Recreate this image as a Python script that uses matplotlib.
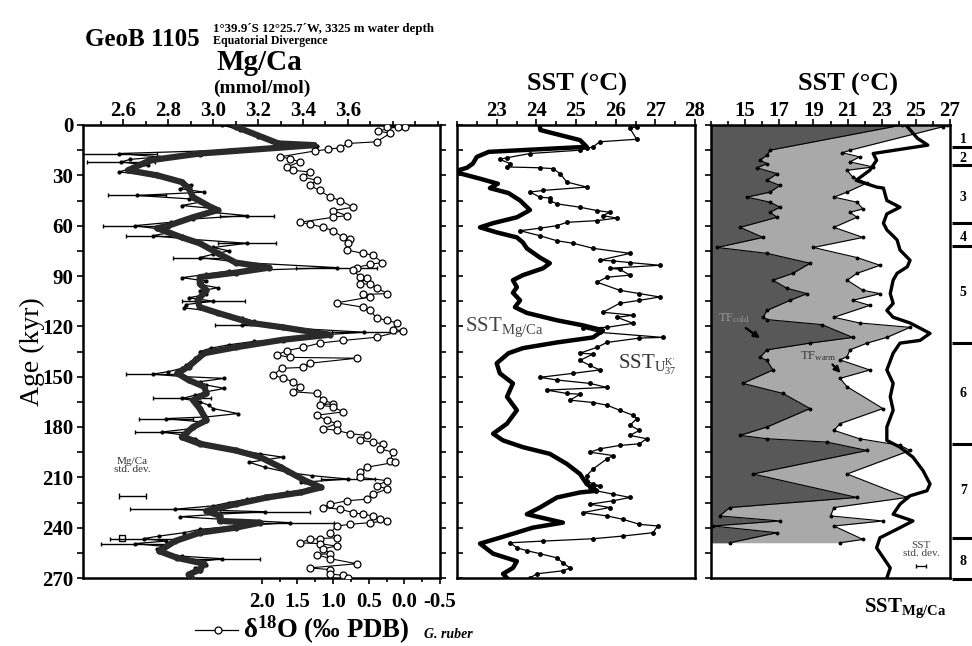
import numpy as np
import matplotlib
matplotlib.use("Agg")
import matplotlib.pyplot as plt
from matplotlib.ticker import MultipleLocator, FixedLocator, FixedFormatter
from matplotlib.lines import Line2D

plt.rcParams['font.family'] = ['Liberation Serif', 'DejaVu Serif']
plt.rcParams['font.weight'] = 'bold'
plt.rcParams['mathtext.fontset'] = 'custom'
plt.rcParams['mathtext.rm'] = 'Liberation Serif:bold'
plt.rcParams['mathtext.bf'] = 'Liberation Serif:bold'
plt.rcParams['mathtext.it'] = 'Liberation Serif:italic:bold'

# ---------------- data ----------------
age_ticks = [0, 30, 60, 90, 120, 150, 180, 210, 240, 270]
mgca_ticks = [2.6, 2.8, 3.0, 3.2, 3.4, 3.6]
d18o_ticks = [2.0, 1.5, 1.0, 0.5, 0.0, -0.5]
d18o_ticklabels = ['2.0', '1.5', '1.0', '0.5', '0.0', '-0.5']
sst_ticks_b = [23, 24, 25, 26, 27, 28]
sst_ticks_c = [15, 17, 19, 21, 23, 25, 27]

# Mg/Ca smoothed (thick line)
mgca_s_age = [1, 11, 12, 17, 21, 27, 30, 34, 37.6, 43, 49, 50.7, 55, 60, 61.5, 67, 70.5,
              76.4, 82, 85, 88, 90.7, 94.5, 98.5, 104.5, 108.6, 112, 118, 120.6, 125, 128,
              132.5, 136, 144, 148, 152, 156, 160, 164, 169, 176, 180, 186, 190, 194, 198,
              204, 212, 216, 219, 222, 226, 230, 233, 236, 237, 240, 243, 248, 254, 258,
              261.5, 265, 268, 271]
mgca_s = [3.10, 3.29, 3.45, 2.94, 2.72, 2.62, 2.75, 2.86, 2.89, 2.91, 2.99, 3.02, 2.91,
          2.80, 2.75, 2.86, 2.94, 3.02, 3.10, 3.25, 3.10, 2.94, 2.94, 2.97, 2.93, 2.94,
          3.02, 3.17, 3.31, 3.52, 3.31, 3.10, 2.96, 2.89, 2.84, 2.89, 2.96, 2.97, 2.91,
          2.94, 2.97, 2.91, 2.86, 2.94, 3.10, 3.21, 3.30, 3.41, 3.48, 3.39, 3.24, 3.10,
          2.97, 3.03, 3.03, 3.21, 3.10, 2.94, 2.83, 2.76, 2.84, 2.96, 2.94, 2.89, 2.91]

# Mg/Ca raw measurements (thin line) and their error bars
mgca_r_age = [0, 3, 7, 11, 12.5, 15, 17, 19, 20.5, 22, 24, 26, 28, 30, 32, 34, 36, 38, 40,
              42, 44, 46, 48, 50, 52, 54, 56, 58, 60, 62, 64, 66, 68, 70.5, 73, 75, 77, 79,
              82, 85, 87, 89, 91, 93, 95, 97, 99, 101, 103, 105, 107, 109, 111, 113, 115,
              117, 119, 121, 123.5, 125, 127, 129, 131, 133, 135, 137, 139, 141, 143, 145,
              147, 148.5, 150, 151, 153, 155, 157, 159, 161, 163, 165, 167, 169, 172, 174,
              175, 177, 179, 181, 183, 185, 187, 190, 193, 196, 198, 201, 204, 207, 209,
              211, 213, 215, 217, 219, 221, 223, 225, 227, 229, 230.5, 232, 233.5, 235, 237,
              239, 241, 243, 245, 246.5, 248, 249.5, 251, 253, 255, 257, 258.5, 260, 262,
              264, 266, 268, 270]
mgca_r = [3.04, 3.12, 3.20, 3.33, 3.46, 3.07, 2.58, 2.76, 2.63, 2.59, 2.71, 2.63, 2.58,
          2.73, 2.81, 2.86, 2.90, 2.85, 2.96, 2.66, 2.89, 2.94, 2.86, 3.02, 2.99, 3.15,
          2.91, 2.81, 2.65, 2.76, 2.81, 2.73, 2.89, 3.15, 3.00, 3.07, 3.00, 2.94, 3.13,
          3.55, 3.07, 2.97, 2.86, 2.97, 2.94, 3.02, 2.94, 2.97, 2.89, 3.00, 2.88, 2.87,
          3.00, 3.07, 3.13, 3.18, 3.13, 3.34, 3.67, 3.50, 3.39, 3.18, 3.07, 2.99, 2.94,
          2.95, 2.92, 2.90, 2.88, 2.86, 2.80, 2.73, 2.87, 3.05, 2.94, 2.97, 3.05, 2.97,
          2.92, 2.86, 2.94, 2.98, 3.00, 3.11, 2.97, 2.79, 2.95, 2.92, 2.90, 2.77, 2.88,
          2.92, 2.97, 3.08, 3.21, 3.31, 3.16, 3.23, 3.33, 3.44, 3.60, 3.39, 3.46, 3.42,
          3.33, 3.23, 3.15, 3.07, 3.00, 2.83, 3.23, 3.02, 2.85, 3.04, 3.34, 3.11, 2.94,
          2.87, 2.76, 2.69, 2.79, 2.65, 2.77, 2.75, 2.79, 2.86, 3.04, 2.95, 2.97, 2.92,
          2.94, 2.89, 2.91]
mgca_r_err = [0, 0, 0, 0, 0, 0, 0.17, 0, 0, 0.15, 0, 0, 0, 0, 0, 0, 0, 0, 0,
              0.13, 0, 0, 0, 0, 0, 0.12, 0, 0, 0.14, 0, 0, 0.12, 0, 0.13, 0, 0, 0, 0.12,
              0, 0.18, 0, 0, 0, 0, 0, 0, 0, 0, 0, 0.14, 0, 0, 0, 0, 0,
              0, 0.12, 0, 0.14, 0, 0, 0, 0, 0, 0, 0, 0, 0, 0, 0,
              0, 0.12, 0, 0, 0, 0, 0, 0, 0, 0.13, 0, 0, 0, 0, 0,
              0.12, 0, 0, 0, 0.12, 0, 0, 0, 0, 0, 0, 0, 0, 0, 0,
              0.12, 0, 0, 0, 0, 0, 0, 0, 0, 0.2, 0.2, 0, 0, 0, 0.2,
              0, 0, 0, 0, 0.15, 0, 0.15, 0, 0, 0, 0, 0.17, 0, 0,
              0, 0, 0, 0]

# delta 18O G. ruber
d18o_age = [1, 1, 1, 3.5, 5, 10, 11, 13.5, 14.5, 15.5, 19, 20, 22, 25, 27, 28, 31, 33,
            36, 39, 43, 45, 49, 51, 54, 55, 58, 59, 61, 63, 67, 68, 70.5, 74.5, 76.5,
            77.5, 82, 83, 85, 86.6, 90.7, 91, 94.5, 95, 97, 100.5, 101, 102.5, 106,
            108.6, 110.5, 115, 116.5, 118, 122, 122.5, 126.5, 128.4, 130, 132.5, 134.5,
            137, 138.5, 139, 142, 144.5, 145, 149, 151, 153, 156, 159, 160, 164, 166,
            167, 168, 171, 173, 176, 178, 181, 182, 184, 185, 188, 189, 190, 193, 195,
            200, 201, 204, 207, 210, 212, 215, 217, 220, 223, 224, 226, 228, 229, 231,
            232, 233, 235, 236, 237, 238, 239, 243, 246, 246.5, 247, 249, 249.5, 251,
            252.5, 255.5, 256, 258.5, 261.5, 264, 265, 267.5, 268.5, 270]
d18o = [0.24, -0.01, 0.09, 0.37, 0.20, 0.39, 0.79, 0.90, 1.07, 1.26, 1.75, 1.61, 1.47,
        1.65, 1.56, 1.33, 1.42, 1.23, 1.33, 1.19, 1.04, 0.90, 0.72, 1.00, 0.81, 1.00,
        1.47, 1.33, 1.14, 1.00, 0.86, 0.76, 0.79, 0.81, 0.58, 0.44, 0.31, 0.48, 0.67,
        0.72, 0.62, 0.53, 0.62, 0.48, 0.39, 0.24, 0.58, 0.48, 0.95, 0.58, 0.48, 0.39,
        0.24, 0.10, 0.16, 0.02, 0.39, 0.86, 1.19, 1.42, 1.65, 1.79, 1.61, 0.67, 1.33,
        1.42, 1.72, 1.84, 1.70, 1.56, 1.47, 1.56, 1.23, 1.14, 1.00, 1.19, 1.00, 0.86,
        1.23, 1.09, 0.95, 1.14, 0.95, 0.76, 0.53, 0.62, 0.44, 0.30, 0.34, 0.16, 0.20,
        0.13, 0.53, 0.62, 0.62, 0.24, 0.39, 0.24, 0.44, 0.53, 0.81, 1.04, 1.14, 0.90,
        0.72, 0.58, 0.44, 0.34, 0.24, 0.48, 0.76, 0.95, 1.04, 0.95, 1.19, 1.33, 1.47,
        1.19, 0.95, 1.14, 1.04, 1.23, 1.04, 0.67, 1.33, 1.04, 1.04, 0.86, 0.79]

# SST from Mg/Ca (middle panel, thick)
sst_mg_age = [1, 3, 9, 13, 16, 19, 23, 25.5, 27, 29, 32, 35, 37.6, 40.6, 45, 50.7, 55,
              58.5, 61, 64, 67, 70, 73.5, 79, 82.4, 85.4, 89.5, 92.5, 96.7, 100, 104.5,
              108.6, 112, 116.4, 119.4, 122.4, 126.6, 129.6, 133, 136, 142, 148, 154, 162,
              170, 178, 184, 188, 192, 196, 202, 208, 214, 218, 219, 222, 228, 232, 237,
              240, 246, 249.5, 255.5, 260, 264, 267.5, 270]
sst_mg = [24.09, 24.10, 25.10, 25.27, 22.80, 22.50, 22.40, 22.25, 22.03, 22.10, 22.58,
          23.03, 22.83, 23.30, 23.59, 23.84, 23.51, 22.91, 22.58, 23.00, 23.51, 23.66,
          23.76, 24.09, 24.34, 24.17, 23.66, 23.41, 23.51, 23.41, 23.59, 23.46, 23.76,
          24.52, 25.17, 25.68, 25.43, 24.52, 23.66, 23.30, 23.00, 23.08, 23.41, 23.26,
          23.51, 23.26, 22.91, 23.16, 23.66, 24.34, 24.77, 25.10, 25.27, 25.53, 25.10,
          24.52, 24.09, 23.76, 24.67, 23.91, 23.08, 22.58, 22.91, 23.51, 23.41, 23.16,
          23.26]

# SST from UK'37 (middle panel, thin)
sst_uk_age = [1, 2, 8.5, 10, 13, 14, 15, 17, 19.5, 20.5, 23, 25, 25.5, 26, 29, 34, 37,
              39, 40, 43, 43.5, 45, 47, 49, 51, 52, 54, 55.5, 57, 58, 60, 61.5, 63, 66,
              69, 70.5, 73.5, 76.5, 80.6, 81, 82, 83.6, 85.4, 86, 89.5, 90.7, 93.7, 98.5,
              100.5, 102.5, 104.5, 106.3, 111.6, 113.4, 114.6, 118.2, 120.6, 121, 123.6,
              126.6, 127, 129.6, 132.5, 136, 136.5, 140.3, 143.3, 146, 148, 150.4, 152,
              154, 156.4, 158, 160, 160.5, 164, 165.4, 167, 170, 173, 175, 179, 182, 185,
              187, 190, 191, 193, 195, 197, 199, 205, 209, 212, 214, 215, 216, 218, 220,
              222, 224, 226, 228, 231, 233, 235, 238, 239, 243, 245, 246.6, 248, 249,
              252, 253.7, 255.5, 258, 261, 264, 265.7, 267.5, 270]
sst_uk = [26.53, 26.36, 26.53, 25.60, 25.43, 25.27, 25.10, 23.84, 23.26, 23.08, 23.34,
          23.26, 24.09, 24.42, 24.60, 24.77, 25.27, 24.17, 23.84, 24.09, 24.34, 24.34,
          24.52, 25.10, 25.53, 25.85, 25.68, 26.03, 25.53, 24.77, 24.52, 24.09, 23.59,
          24.09, 24.52, 24.93, 25.43, 26.36, 25.60, 25.93, 26.36, 27.11, 25.85, 26.10,
          26.36, 25.78, 25.53, 26.10, 26.60, 27.11, 26.60, 26.10, 25.68, 26.44, 26.03,
          26.44, 25.78, 25.17, 25.60, 27.19, 26.60, 25.78, 25.53, 25.10, 25.43, 25.10,
          25.35, 25.60, 24.93, 24.09, 24.52, 25.35, 25.78, 24.26, 24.77, 25.10, 24.85,
          25.43, 25.78, 26.10, 26.44, 26.53, 26.36, 26.60, 26.36, 26.78, 26.60, 26.10,
          25.60, 25.35, 25.93, 25.78, 25.43, 25.27, 25.27, 25.43, 25.60, 25.35, 25.50,
          25.93, 26.36, 25.93, 25.35, 25.85, 25.17, 25.78, 26.18, 26.60, 27.06, 26.94,
          26.18, 25.43, 24.17, 23.34, 23.51, 23.76, 24.09, 24.52, 24.67, 24.85, 24.67,
          24.01, 23.84]

# right panel: thermocline temperatures and SST
tfc_age = [0, 15, 18, 21, 23, 25.5, 29, 33, 36, 40, 43, 46, 49, 52, 55, 61, 67, 73, 76.5,
           82.4, 88.4, 92.5, 97.3, 100.5, 104.5, 110.5, 114.6, 116, 119, 126.6, 130, 134,
           138.5, 140.3, 146, 154, 160, 169, 180, 185, 187, 189, 194, 208, 222, 228, 233,
           236, 239, 243, 249]
tf_cold = [24.2, 16.46, 16.28, 15.87, 16.28, 15.70, 16.87, 16.28, 17.04, 16.46, 15.10,
           16.46, 17.04, 16.46, 16.87, 14.70, 16.05, 13.35, 16.28, 18.80, 17.80, 16.63,
           17.45, 18.62, 17.63, 16.28, 16.05, 16.30, 19.50, 21.30, 18.80, 16.28, 15.87,
           16.28, 16.63, 14.87, 17.22, 18.80, 16.28, 14.70, 16.28, 19.80, 22.14, 15.46,
           21.55, 14.10, 13.50, 17.04, 13.10, 16.87, 14.10]
tfw_age = [0, 1, 15, 16.5, 19, 22, 25, 27, 31, 34.5, 40, 43, 46, 50, 52, 55, 61, 67, 73,
           79, 83.6, 88.4, 92.5, 98.5, 100.5, 104.5, 107.5, 114.6, 118, 120.6, 126.6, 130,
           134, 138, 140, 146, 151, 156, 169, 178, 182, 187, 191, 194, 208, 222, 228, 233,
           236, 239, 247, 249]
tf_warm = [26.8, 26.6, 21.15, 20.70, 21.70, 21.14, 22.50, 20.97, 21.30, 22.14, 20.97,
           20.20, 21.55, 21.90, 21.14, 21.55, 20.20, 21.90, 19.00, 21.55, 22.90, 21.55,
           20.97, 21.90, 22.90, 21.30, 22.30, 20.20, 21.70, 24.66, 23.30, 22.14, 21.14,
           20.97, 20.56, 22.30, 20.56, 20.97, 23.07, 20.56, 20.20, 21.70, 24.10, 24.66,
           20.97, 24.48, 20.20, 20.00, 23.07, 20.20, 21.90, 20.56]
sst_c_age = [1, 8, 12, 17, 21, 27, 33, 37, 37.6, 45, 49, 53, 58.5, 62.5, 68.5, 74.5, 80.6,
             84.5, 88.4, 92.5, 100.5, 106.3, 110.5, 114.6, 118, 124.2, 128.4, 130, 136,
             146, 154, 162, 170, 180, 188, 192, 198, 206, 214, 218, 221, 226, 232, 236,
             240, 246, 252, 258, 264, 270]
sst_c = [24.5, 25.1, 25.7, 22.5, 22.7, 22.3, 21.5, 22.7, 23.1, 23.3, 24.07, 23.3, 23.1,
         23.3, 23.9, 24.07, 24.66, 24.5, 23.9, 23.67, 23.5, 23.67, 23.3, 23.67, 24.66,
         25.83, 25.24, 24.07, 23.67, 23.3, 23.67, 23.5, 23.67, 23.3, 23.3, 24.07, 24.83,
         25.42, 25.83, 25.65, 24.66, 24.07, 23.67, 24.83, 24.07, 22.9, 22.7, 23.1, 23.5,
         23.3]

stage_bounds = [13, 24, 58.5, 72, 130, 190, 246, 270.5]
stage_names = ['1', '2', '3', '4', '5', '6', '7', '8']
stage_label_age = [8.4, 19.7, 43, 67, 100, 160, 218, 260]

# ---------------- figure ----------------
W, H = 972, 646
fig = plt.figure(figsize=(W / 100, H / 100), dpi=100)
fig.patch.set_facecolor('white')

def fx(px):
    return px / W

def fy(py):
    return 1 - py / H

bot, top = fy(578), fy(125)
hgt = top - bot
tick_fs = 15
top_pad = -1

# ---------- panel 1: Mg/Ca and d18O ----------
ax1 = fig.add_axes([fx(83), bot, fx(440) - fx(83), hgt])
ax1o = ax1.twiny()

ax1.set_ylim(270, 0)
ax1.set_xlim(2.42, 4.01)
ax1.xaxis.tick_top()
ax1.xaxis.set_label_position('top')
ax1.xaxis.set_major_locator(FixedLocator(mgca_ticks))
ax1.xaxis.set_minor_locator(MultipleLocator(0.1))
ax1.set_yticks(age_ticks)
ax1.yaxis.set_minor_locator(MultipleLocator(15))
ax1.tick_params(axis='x', which='both', direction='out', top=True, bottom=False,
                labeltop=True, labelbottom=False, labelsize=tick_fs, pad=top_pad,
                length=4, width=1.2)
ax1.tick_params(axis='x', which='minor', length=3)
ax1.tick_params(axis='y', which='both', direction='out', left=True, right=True,
                labelsize=tick_fs, pad=3, length=4, width=1.2)
for sp in ax1.spines.values():
    sp.set_linewidth(1.8)
ax1.set_ylabel('Age (kyr)', fontsize=20, labelpad=-2)

ax1.plot(mgca_r, mgca_r_age, '-', color='black', lw=0.9, marker='o', ms=2, zorder=3)
err = np.array(mgca_r_err)
msk = err > 0
ax1.errorbar(np.array(mgca_r)[msk], np.array(mgca_r_age)[msk], xerr=err[msk], fmt='none',
             ecolor='black', elinewidth=1.0, capsize=1.5, zorder=3)
ax1.plot(mgca_s, mgca_s_age, '-', color='#2a2a2a', lw=4.5, marker='o', ms=3.5, zorder=4)

ax1.errorbar([2.64], [221], xerr=[0.06], fmt='none', ecolor='black', elinewidth=1.0,
             capsize=2)
ax1.text(2.64, 203, 'Mg/Ca\nstd. dev.', fontsize=8, fontweight='normal', ha='center',
         va='center', linespacing=0.95, color='#333333')
ax1.plot([2.595], [246], 's', mfc='white', mec='black', ms=5, mew=1)

ax1o.set_xlim(4.51, -0.5)
ax1o.set_ylim(270, 0)
ax1o.xaxis.tick_bottom()
ax1o.xaxis.set_label_position('bottom')
ax1o.xaxis.set_major_locator(FixedLocator(d18o_ticks))
ax1o.xaxis.set_major_formatter(FixedFormatter(d18o_ticklabels))
ax1o.xaxis.set_minor_locator(FixedLocator([1.75, 1.25, 0.75, 0.25, -0.25]))
ax1o.tick_params(axis='x', which='both', direction='out', bottom=True, top=False,
                 labelbottom=True, labeltop=False, labelsize=tick_fs, pad=6,
                 length=4, width=1.2)
ax1o.tick_params(axis='x', which='minor', length=3)
for sp in ax1o.spines.values():
    sp.set_visible(False)
ax1o.plot(d18o, d18o_age, '-', color='black', lw=0.8, marker='o', ms=5, mfc='white',
          mec='black', mew=0.9, zorder=3)

# ---------- panel 2: SST Mg/Ca vs UK37 ----------
ax2 = fig.add_axes([fx(457), bot, fx(695) - fx(457), hgt])
ax2.set_ylim(270, 0)
ax2.set_xlim(22, 28)
ax2.xaxis.tick_top()
ax2.xaxis.set_major_locator(FixedLocator(sst_ticks_b))
ax2.xaxis.set_minor_locator(MultipleLocator(0.5))
ax2.tick_params(axis='x', which='both', direction='out', top=True, bottom=False,
                labelsize=tick_fs, pad=top_pad, length=4, width=1.2)
ax2.tick_params(axis='x', which='minor', length=3)
ax2.yaxis.set_major_locator(MultipleLocator(15))
ax2.tick_params(axis='y', which='both', direction='in', left=True, right=False,
                labelleft=False, length=4, width=1.2)
for sp in ax2.spines.values():
    sp.set_linewidth(1.8)
ax2.plot(sst_uk, sst_uk_age, '-', color='black', lw=0.9, marker='o', ms=2.5, zorder=3)
ax2.plot(sst_mg, sst_mg_age, '-', color='black', lw=3.2, zorder=4)
ax2.text(22.2, 120.5, r'SST$_{\mathregular{Mg/Ca}}$', fontsize=15, fontweight='normal',
         color='#444444', va='center', ha='left')
ax2.text(26.05, 143, r"SST$_{\mathregular{U}^{\mathregular{K'}}_{\mathregular{37}}}$",
         fontsize=15, fontweight='normal', color='#333333', va='center', ha='left')

# ---------- panel 3: thermocline & SST ----------
ax3 = fig.add_axes([fx(711), bot, fx(950) - fx(711), hgt])
ax3.set_ylim(270, 0)
ax3.set_xlim(13, 27)
ax3.xaxis.tick_top()
ax3.xaxis.set_major_locator(FixedLocator(sst_ticks_c))
ax3.xaxis.set_minor_locator(MultipleLocator(1))
ax3.tick_params(axis='x', which='both', direction='out', top=True, bottom=False,
                labelsize=tick_fs, pad=top_pad, length=4, width=1.2)
ax3.tick_params(axis='x', which='minor', length=3)
ax3.yaxis.set_major_locator(MultipleLocator(15))
ax3.tick_params(axis='y', which='both', direction='out', left=True, right=False,
                labelleft=False, length=4, width=1.2)
for sp in ax3.spines.values():
    sp.set_linewidth(1.8)
ax3.fill_betweenx(tfw_age, 13, tf_warm, color='#a9a9a9', lw=0, zorder=1)
ax3.fill_betweenx(tfc_age, 13, tf_cold, color='#585858', lw=0, zorder=2)
ax3.plot(tf_warm, tfw_age, '-', color='black', lw=0.8, marker='o', ms=1.8, zorder=3)
ax3.plot(tf_cold, tfc_age, '-', color='black', lw=0.8, marker='o', ms=1.8, zorder=3)
ax3.plot(sst_c, sst_c_age, '-', color='black', lw=2.4, zorder=4)
ax3.text(13.4, 115, r'TF$_{\mathregular{cold}}$', fontsize=9, fontweight='normal',
         color='#999999', va='center', ha='left', zorder=5)
ax3.annotate('', xy=(16.0, 128), xytext=(14.9, 120),
             arrowprops=dict(arrowstyle='-|>', color='black', lw=1.6, mutation_scale=9),
             zorder=5)
ax3.text(18.2, 138, r'TF$_{\mathregular{warm}}$', fontsize=9, fontweight='normal',
         color='#333333', va='center', ha='left', zorder=5)
ax3.annotate('', xy=(20.7, 149), xytext=(20.0, 141.5),
             arrowprops=dict(arrowstyle='-|>', color='black', lw=1.6, mutation_scale=9),
             zorder=5)
ax3.text(25.3, 253, 'SST\nstd. dev.', fontsize=8, fontweight='normal', ha='center',
         va='center', linespacing=0.95, color='#444444')
ax3.errorbar([25.3], [263], xerr=[0.3], fmt='none', ecolor='black', elinewidth=0.9,
             capsize=1.5)

# ---------- stage column ----------
ax4 = fig.add_axes([fx(950), bot, fx(972) - fx(950), hgt])
ax4.set_ylim(270, 0)
ax4.set_xlim(0, 1)
ax4.axis('off')
ax4.hlines(stage_bounds, 0.1, 1.0, color='black', lw=2.2, clip_on=False)
for nm, a in zip(stage_names, stage_label_age):
    ax4.text(0.6, a, nm, fontsize=10, ha='center', va='center', fontweight='bold')

# ---------- titles and labels ----------
fig.text(fx(85), fy(40), 'GeoB 1105', fontsize=18, ha='left', va='center')
fig.text(fx(213), fy(29), '1°39.9´S 12°25.7´W, 3325 m water depth', fontsize=9.3,
         ha='left', va='center')
fig.text(fx(213), fy(41), 'Equatorial Divergence', fontsize=8.6, ha='left', va='center')
fig.text(fx(259), fy(63), 'Mg/Ca', fontsize=21, ha='center', va='center')
fig.text(fx(262), fy(88), '(mmol/mol)', fontsize=14, ha='center', va='center')
fig.text(fx(577), fy(84), 'SST (°C)', fontsize=19, ha='center', va='center')
fig.text(fx(848), fy(84), 'SST (°C)', fontsize=19, ha='center', va='center')
fig.text(fx(905), fy(608), r'SST$_{\mathregular{Mg/Ca}}$', fontsize=15, ha='center',
         va='center')

fig.add_artist(Line2D([fx(195), fx(238)], [fy(630), fy(630)], color='black', lw=0.9))
fig.add_artist(Line2D([fx(218)], [fy(630)], marker='o', ms=5, mfc='white', mec='black',
                      mew=0.9))
fig.text(fx(243), fy(630), r'$\mathregular{\delta^{18}}$O (‰ PDB)', fontsize=19.3,
         ha='left', va='center')
fig.text(fx(424), fy(634), 'G. ruber', fontsize=10, style='italic', ha='left',
         va='center')

fig.savefig('out.png', dpi=100, facecolor='white')
